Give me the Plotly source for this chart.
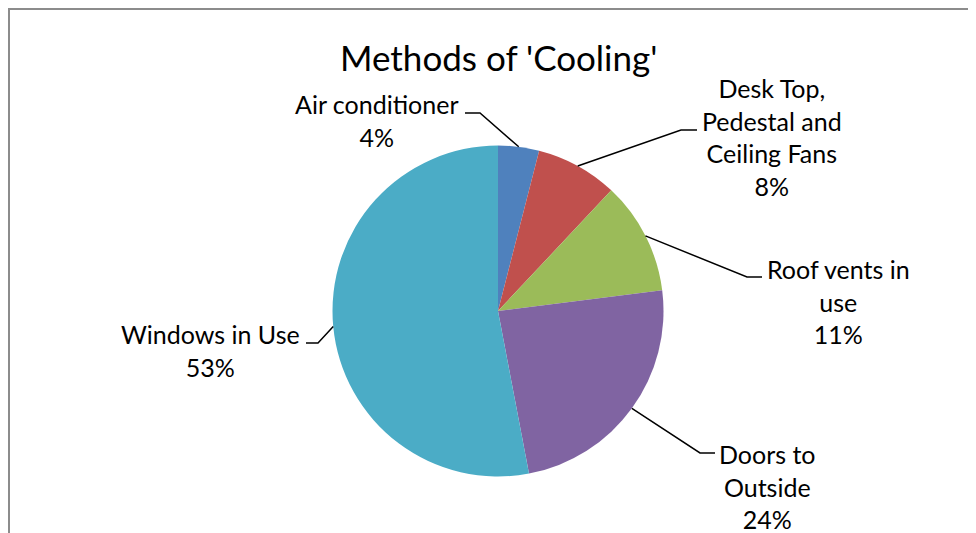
import math
import plotly.graph_objects as go

# data
labels = ["Air conditioner", "Desk Top,<br>Pedestal and<br>Ceiling Fans",
          "Roof vents in<br>use", "Doors to<br>Outside", "Windows in Use"]
values = [4, 8, 11, 24, 53]
colors = ["#4F81BD", "#C0504D", "#9BBB59", "#8064A2", "#4BACC6"]

W, H = 976, 533
OFF = 8  # page body margin
CX, CY, R = 498, 311, 165.5  # pie centre / radius in screen pixels

# label block centre and elbow point (screen pixels)
label_pos = [(377, 120), (772, 137), (838, 301), (767, 486), (210, 350)]
elbows = [((465, 113), (480, 113)), ((697, 130), (681, 130)),
          ((762, 277), (747, 277)), ((715, 453), (700, 453)),
          ((306, 343), (318, 343))]


def px(x):
    return (x - OFF) / W


def py(y):
    return 1 - (y - OFF) / H


fig = go.Figure(
    go.Pie(
        labels=[l.replace("<br>", " ") for l in labels],
        values=values,
        sort=False,
        direction="clockwise",
        rotation=0,
        marker={"colors": colors, "line": {"width": 0}},
        textinfo="none",
        hoverinfo="label+percent",
        showlegend=False,
        domain={"x": [px(CX - R), px(CX + R)], "y": [py(CY + R), py(CY - R)]},
    )
)

total = sum(values)
cum = 0
shapes = []
annotations = []
for i, v in enumerate(values):
    mid = (cum + v / 2) / total * 2 * math.pi
    cum += v
    ex, ey = CX + R * math.sin(mid), CY - R * math.cos(mid)
    (x1, y1), (x2, y2) = elbows[i]
    path = "M {} {} L {} {} L {} {}".format(px(x1), py(y1), px(x2), py(y2), px(ex), py(ey))
    shapes.append(dict(type="path", xref="paper", yref="paper", path=path,
                       line={"color": "black", "width": 1.5}))
    pct = round(v / total * 100)
    lx, ly = label_pos[i]
    annotations.append(dict(
        x=px(lx), y=py(ly), xref="paper", yref="paper",
        text=labels[i] + "<br>" + str(pct) + "%",
        showarrow=False, align="center", xanchor="center", yanchor="middle",
        font={"family": "Lato", "size": 25, "color": "black"},
    ))

# title
annotations.append(dict(
    x=px(498), y=py(57), xref="paper", yref="paper", text="Methods of 'Cooling'",
    showarrow=False, xanchor="center", yanchor="middle",
    font={"family": "Lato", "size": 35, "color": "black"},
))

# chart frame (extends past the right / bottom edges)
shapes.append(dict(type="rect", xref="paper", yref="paper",
                   x0=px(9), y0=py(560), x1=px(1000), y1=py(9),
                   line={"color": "#8c8c8c", "width": 2}, layer="below"))

fig.update_layout(
    width=W, height=H,
    margin={"l": 0, "r": 0, "t": 0, "b": 0},
    paper_bgcolor="white",
    plot_bgcolor="white",
    shapes=shapes,
    annotations=annotations,
)

fig.write_html("out.html")
